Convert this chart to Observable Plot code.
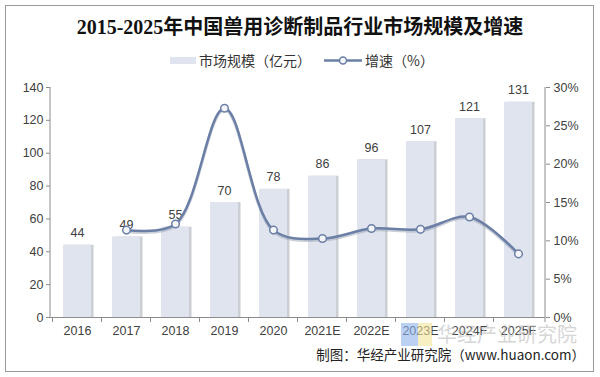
<!DOCTYPE html>
<html><head><meta charset="utf-8">
<script src="https://cdn.jsdelivr.net/npm/d3@7"></script>
<script src="https://cdn.jsdelivr.net/npm/@observablehq/plot@0.6"></script>
<style>body{margin:0;background:#fff}</style>
</head><body><div id="chart"></div>
<script>
const years = ["2016","2017","2018","2019","2020","2021E","2022E","2023E","2024F","2025F"];
const market = [44,49,55,70,78,86,96,107,121,131];
const growth = [null,11.4,12.2,27.3,11.4,10.3,11.6,11.5,13.1,8.3];
const leftTicks = [0,20,40,60,80,100,120,140];
const rightTicks = [0,5,10,15,20,25,30];
const title = "2015-2025年中国兽用诊断制品行业市场规模及增速";
const legendLabels = ["市场规模（亿元）","增速（%）"];
const source = "制图：华经产业研究院（www.huaon.com）";
const watermark = "华经产业研究院";

const barColor = "#dfe4ee", lineColor = "#6b7fa6", axisColor = "#8c8c8c", textColor = "#404040";
const K = 140/30;
const barData = years.map((y,i)=>({year:y, value:market[i]}));
const lineData = years.map((y,i)=>({year:y, g:growth[i]})).filter(d=>d.g!=null);
const sans = "'Liberation Sans', Arial, 'Noto Sans CJK SC', sans-serif";

const chart = Plot.plot({
  width:600, height:377, marginTop:87, marginBottom:60, marginLeft:50, marginRight:55,
  style:{fontFamily:sans, fontSize:"12px", background:"#fff", overflow:"visible"},
  x:{domain:years, paddingInner:0.42, paddingOuter:0.21, label:null},
  y:{domain:[0,140], label:null},
  marks:[
    Plot.barY(barData,{x:"year", y:"value", fill:"#a9adb5", dx:2.5, opacity:0.6}),
    Plot.barY(barData,{x:"year", y:"value", fill:barColor}),
    Plot.text(barData,{x:"year", y:"value", text:d=>String(d.value), dy:-12, fill:textColor, fontSize:12.5}),
    Plot.axisY({ticks:leftTicks, tickSize:4, tickPadding:3, stroke:axisColor, fill:textColor, fontSize:12.5, label:null}),
    Plot.axisY({anchor:"right", ticks:rightTicks.map(p=>p*K), tickFormat:d=>Math.round(d/K)+"%", tickSize:4, tickPadding:4, stroke:axisColor, fill:textColor, fontSize:12.5, label:null}),
    Plot.axisX({tickSize:0, tickPadding:9, fill:textColor, fontSize:12.5, label:null}),
    Plot.ruleY([0],{stroke:axisColor}),
    Plot.line(lineData,{x:"year", y:d=>d.g*K, curve:"catmull-rom", stroke:"#9aa3b3", strokeWidth:3, dy:1.5, opacity:0.5}),
    Plot.line(lineData,{x:"year", y:d=>d.g*K, curve:"catmull-rom", stroke:lineColor, strokeWidth:2.5}),
    Plot.dot(lineData,{x:"year", y:d=>d.g*K, r:3.8, fill:"#f4f6fa", stroke:lineColor, strokeWidth:1.5})
  ]
});
document.getElementById("chart").append(chart);

const svg = d3.select(chart);
const xs = chart.scale("x"), ys = chart.scale("y");
const x0 = 50, x1 = 545, yTop = ys.apply(140), yBot = ys.apply(0);
// axis lines
svg.append("line").attr("x1",x0).attr("x2",x0).attr("y1",yTop).attr("y2",yBot).attr("stroke",axisColor);
svg.append("line").attr("x1",x1).attr("x2",x1).attr("y1",yTop).attr("y2",yBot).attr("stroke",axisColor);
// x ticks at band edges
const step = xs.step;
years.forEach((y,i)=>{
  const left = xs.apply(y) - (step - xs.bandwidth)/2;
  svg.append("line").attr("x1",left).attr("x2",left).attr("y1",yBot).attr("y2",yBot+5).attr("stroke",axisColor);
});
svg.append("line").attr("x1",x1).attr("x2",x1).attr("y1",yBot).attr("y2",yBot+5).attr("stroke",axisColor);

// watermark
const wm = svg.append("g").attr("opacity",0.6).attr("text-anchor","end");
wm.append("rect").attr("x",401).attr("y",323).attr("width",17).attr("height",23).attr("fill","#8fb4ee");
wm.append("rect").attr("x",418).attr("y",323).attr("width",14).attr("height",23).attr("fill","#f3e49a");
wm.append("text").attr("x",577).attr("y",342).attr("font-family","'Noto Sans CJK SC', sans-serif").attr("font-size",20).attr("fill","#bcbcbc").text(watermark);

// title
svg.append("text").attr("x",300).attr("y",34).attr("text-anchor","middle")
  .attr("font-family","'Liberation Serif', 'Noto Sans CJK SC', serif").attr("font-weight","bold").attr("font-size",20).attr("fill","#111").text(title);

// legend
const lg = svg.append("g").attr("text-anchor","start").attr("font-family","'Noto Sans CJK SC', sans-serif").attr("font-size",14).attr("fill","#333");
lg.append("rect").attr("x",170).attr("y",57).attr("width",26).attr("height",7).attr("fill",barColor);
lg.append("text").attr("x",199).attr("y",65.5).text(legendLabels[0]);
lg.append("line").attr("x1",324).attr("x2",362).attr("y1",60.5).attr("y2",60.5).attr("stroke",lineColor).attr("stroke-width",2.5);
lg.append("circle").attr("cx",343).attr("cy",60.5).attr("r",3.5).attr("fill","#f4f6fa").attr("stroke",lineColor).attr("stroke-width",1.5);
lg.append("text").attr("x",365).attr("y",65.5).text(legendLabels[1]);

// source
svg.append("text").attr("x",585).attr("y",360).attr("text-anchor","end")
  .attr("font-family","'Noto Sans CJK SC', sans-serif").attr("font-size",13.5).attr("fill","#222").text(source);

// border
svg.append("rect").attr("x",5.5).attr("y",5.5).attr("width",588).attr("height",366).attr("fill","none").attr("stroke","#9a9a9a");
</script>
</body></html>
